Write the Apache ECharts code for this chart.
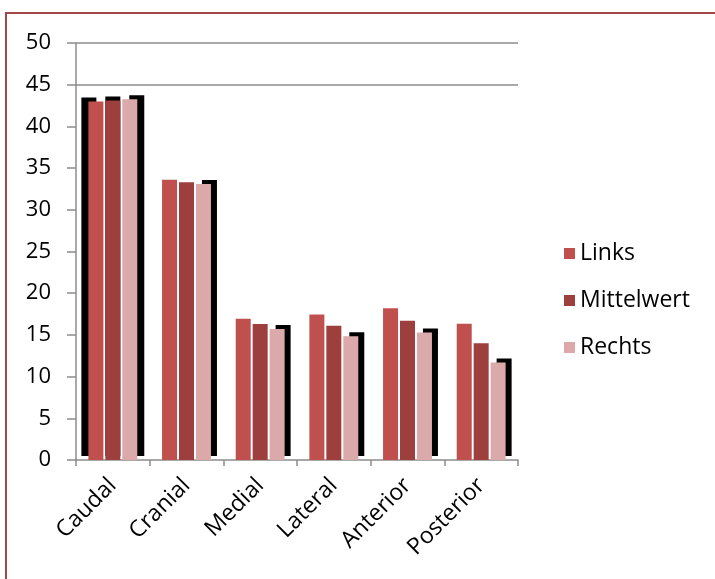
<!DOCTYPE html>
<html>
<head>
<meta charset="utf-8">
<script src="https://cdn.jsdelivr.net/npm/echarts@6/dist/echarts.min.js"></script>
<style>
  html, body { margin: 0; padding: 0; background: #fff; }
  #main { width: 715px; height: 579px; }
</style>
</head>
<body>
<div id="main"></div>
<script>
const categories = ['Caudal', 'Cranial', 'Medial', 'Lateral', 'Anterior', 'Posterior'];
const links = [43.0, 33.6, 16.95, 17.45, 18.2, 16.35];
const mittelwert = [43.1, 33.3, 16.3, 16.1, 16.7, 14.0];
const rechts = [43.25, 33.1, 15.7, 14.85, 15.3, 11.7];
const yTicks = [0, 5, 10, 15, 20, 25, 30, 35, 40, 45, 50];

const font = 'Open Sans';
const hide = 'rgba(0,0,0,0)';

// only the two top gridlines are visible in the original
const splitColors = yTicks.map(v => v >= 45 ? '#8c8c8c' : hide);

// hard black "shadow" behind the bars
function withShadow (arr, first, rest) {
  return arr.map((v, i) => {
    const s = i === 0 ? first : rest;
    if (!s) return v;
    return { value: v, itemStyle: { shadowColor: '#000', shadowBlur: 0, shadowOffsetX: s[0], shadowOffsetY: s[1] } };
  });
}

const myChart = echarts.init(document.getElementById('main'));

const option = {
  animation: false,
  backgroundColor: '#fff',
  graphic: [{
    type: 'rect',
    shape: { x: 6, y: 13, width: 730, height: 600 },
    style: { fill: 'none', stroke: '#a0484a', lineWidth: 2 },
    silent: true
  }],
  grid: { left: 76, right: 197, top: 43, bottom: 119 },
  legend: {
    orient: 'vertical',
    left: 559,
    top: 237,
    icon: 'rect',
    itemWidth: 11,
    itemHeight: 11,
    itemGap: 24,
    textStyle: { fontFamily: font, fontSize: 23, color: '#000' },
    data: ['Links', 'Mittelwert', 'Rechts']
  },
  xAxis: {
    type: 'category',
    data: categories,
    axisLine: { lineStyle: { color: '#8c8c8c', width: 1.5 } },
    axisTick: { show: true, length: 6, lineStyle: { color: '#8c8c8c', width: 1.5 } },
    axisLabel: { rotate: 45, margin: 22, fontFamily: font, fontSize: 23, color: '#000' }
  },
  yAxis: {
    type: 'value',
    min: 0,
    max: 50,
    interval: 5,
    axisLine: { show: true, lineStyle: { color: '#8c8c8c', width: 1.5 } },
    axisTick: { show: true, length: 9, lineStyle: { color: '#8c8c8c', width: 1.5 } },
    axisLabel: { margin: 25, fontFamily: font, fontSize: 22, color: '#000' },
    splitLine: { show: true, lineStyle: { color: splitColors, width: 1.5 } }
  },
  series: [
    {
      name: 'Links', type: 'bar', barWidth: 15, barGap: '13%',
      itemStyle: { color: '#c0504d' },
      data: withShadow(links, [-7, -4], null)
    },
    {
      name: 'Mittelwert', type: 'bar', barWidth: 15, barGap: '13%',
      itemStyle: { color: '#9d3f3d' },
      data: withShadow(mittelwert, [0, -4], null)
    },
    {
      name: 'Rechts', type: 'bar', barWidth: 15, barGap: '13%',
      itemStyle: { color: '#dba9a9' },
      data: withShadow(rechts, [7, -4], [6, -4])
    }
  ]
};

myChart.setOption(option);
</script>
</body>
</html>
